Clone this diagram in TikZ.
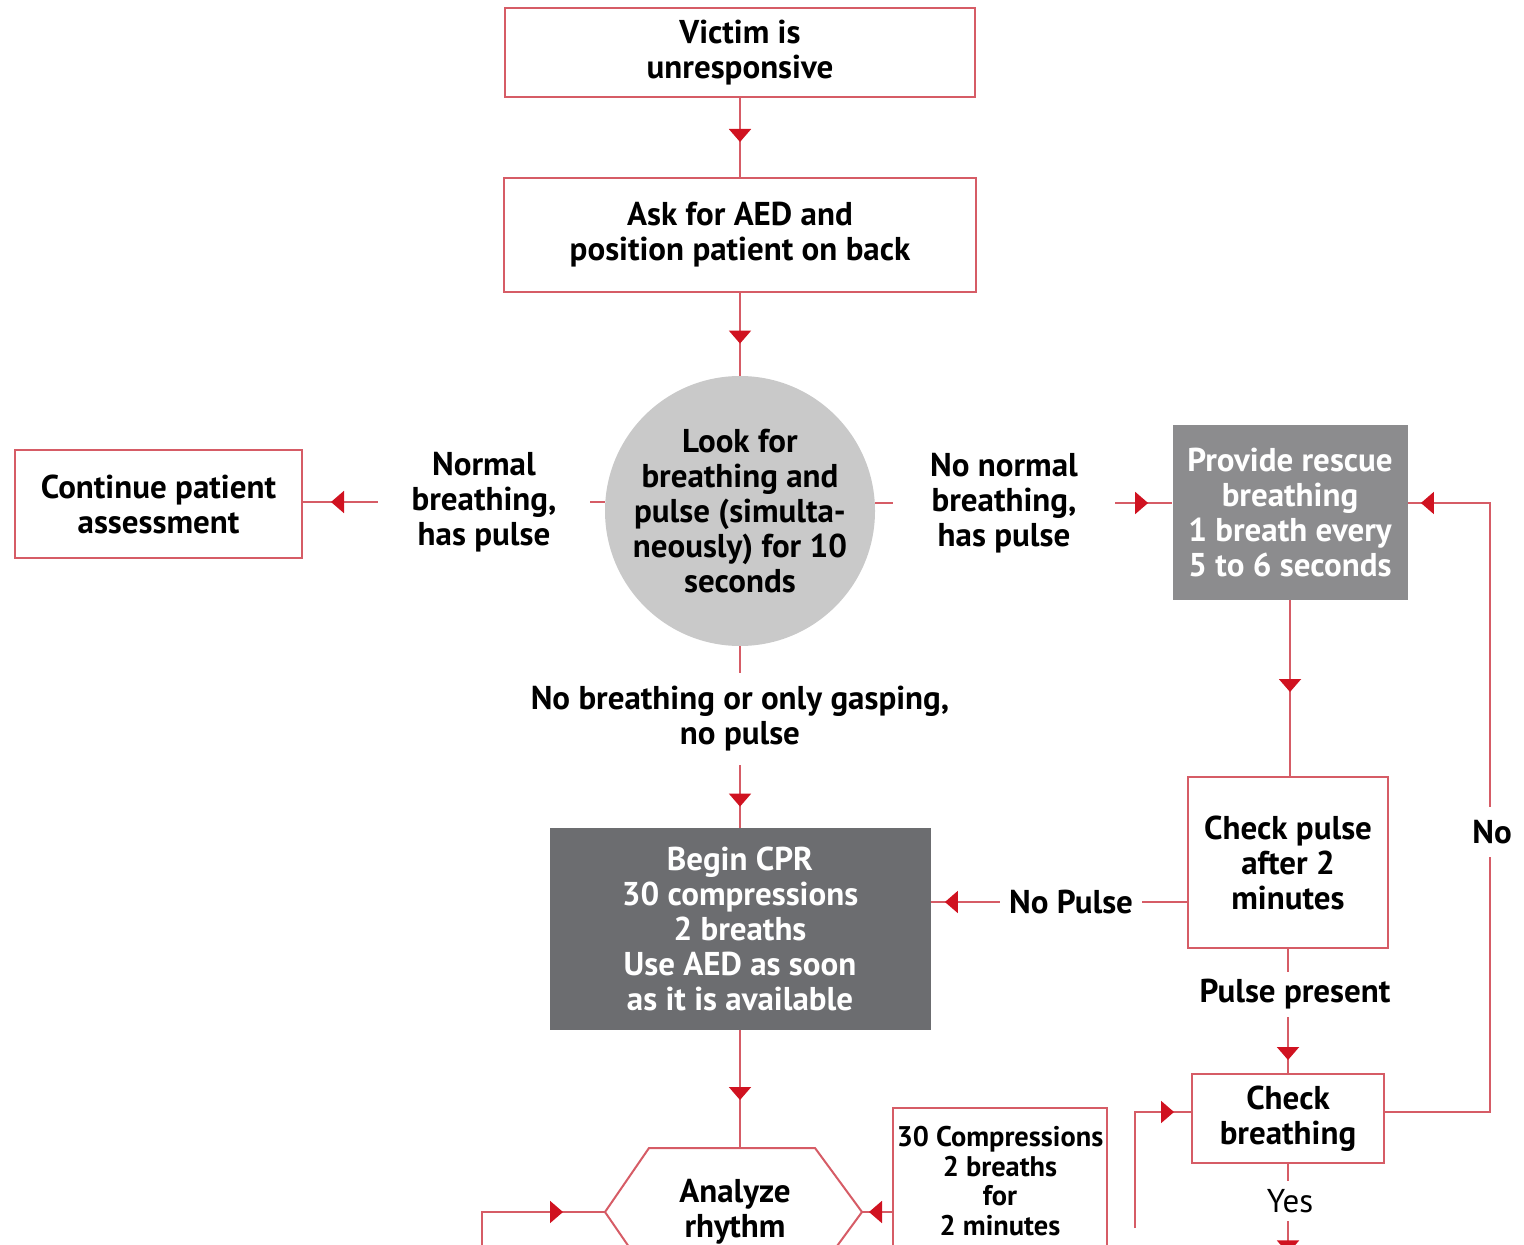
\documentclass[tikz,border=0pt]{standalone}
\usepackage{fontspec}
\setmainfont{PT Sans}
\usetikzlibrary{arrows.meta,decorations.markings}
\definecolor{ln}{RGB}{214,92,102}
\definecolor{tp}{RGB}{208,18,32}
\definecolor{gA}{RGB}{201,201,201}
\definecolor{gB}{RGB}{140,140,142}
\definecolor{gC}{RGB}{108,109,112}
\begin{document}
\begin{tikzpicture}[x=0.5pt,y=-0.5pt,
  base/.style={font=\bfseries\fontsize{16.5}{17.5}\selectfont, align=center, inner sep=0pt},
  box/.style={base, draw=ln, line width=1pt, rectangle},
  con/.style={draw=ln, line width=1pt},
  tipat/.style={postaction={decorate,decoration={markings,mark=at position #1 with {\arrow{Triangle[length=6.5pt,width=11pt,color=tp]}}}}}
]
\useasboundingbox (0,0) rectangle (1524,1245);
\clip (0,0) rectangle (1524,1245);

% nodes
\node[box, minimum width=235pt, minimum height=44.5pt] (victim) at (740,52.5) {Victim is\\unresponsive};
\node[box, minimum width=236pt, minimum height=57pt] (ask) at (740,235) {Ask for AED and\\position patient on back};
\node[base, circle, fill=gA, minimum size=135pt] (circ) at (740,511) {Look for\\breathing and\\pulse (simulta-\\neously) for 10\\seconds};
\node[box, minimum width=143.5pt, minimum height=54pt] (cont) at (158.5,504) {Continue patient\\assessment};
\node[base, minimum width=106pt] (labL) at (484,502) {Normal\\breathing,\\has pulse};
\node[base, minimum width=111pt] (labR) at (1004,503) {No normal\\breathing,\\has pulse};
\node[base, fill=gB, text=white, minimum width=117.5pt, minimum height=87.5pt] (prov) at (1290,512.5) {Provide rescue\\breathing\\1 breath every\\5 to 6 seconds};
\node[box, minimum width=100pt, minimum height=85.5pt] (chkp) at (1288,862.5) {Check pulse\\after 2\\minutes};
\node[base, minimum width=71pt] (labNP) at (1071,902) {No Pulse};
\node[base, fill=gC, text=white, minimum width=190.5pt, minimum height=101pt] (cpr) at (740,929) {Begin CPR\\30 compressions\\2 breaths\\Use AED as soon\\as it is available};
\node[base, minimum height=46pt] (labB) at (740,719) {No breathing or only gasping,\\no pulse};
\node[base, minimum height=22.5pt] (labPP) at (1295,994.5) {Pulse present};
\node[box, minimum width=96pt, minimum height=44.5pt] (chkb) at (1288,1118.5) {Check\\breathing};
\node[base, minimum height=25pt] (labNo) at (1492,832) {No};
\node[base, font=\fontsize{16.5}{17.5}\selectfont, minimum height=20pt] (labYes) at (1290,1201) {Yes};
\node[box, font=\bfseries\fontsize{14.2}{14.7}\selectfont, minimum width=107pt, minimum height=73pt] (comp) at (1000,1181) {30 Compressions\\2 breaths\\for\\2 minutes};

% hexagon
\coordinate (hexT) at (740,1148);
\coordinate (hexL) at (605,1212);
\coordinate (hexR) at (862,1212);
\draw[con] (649,1148) -- (815,1148) -- (hexR) -- (815,1276) -- (649,1276) -- (hexL) -- cycle;
\node[base] (hex) at (735,1212) {Analyze\\rhythm};

% free-end coordinates
\coordinate (nb) at (1490,1112);
\coordinate (nt) at (1490,503);
\coordinate (yesEnd) at (1288,1300);
\coordinate (lb) at (482,1260);
\coordinate (lc) at (482,1212);
\coordinate (rb) at (1135,1228);
\coordinate (rc) at (1135,1112);

% connectors
\draw[con, tipat=-17.5pt] (victim.south) -- (victim.south |- ask.north);
\draw[con, tipat=-16pt] (ask.south) -- (ask.south |- circ.north);
\draw[con] (circ.south) -- (labB.north);
\draw[con, tipat=-10.5pt] (labB.south) -- (labB.south |- cpr.north);
\draw[con, tipat=-24pt] (cpr.south) -- (cpr.south |- hexT);
\draw[con] (circ.west |- labL.east) -- (labL.east);
\draw[con, tipat=-14pt] (labL.west) -- (labL.west -| cont.east);
\draw[con] (circ.east |- labR.west) -- (labR.west);
\draw[con, tipat=-12pt] (labR.east) -- (labR.east -| prov.west);
\draw[con, tipat=-42pt] (prov.south) -- (prov.south |- chkp.north);
\draw[con] (chkp.west |- labNP.east) -- (labNP.east);
\draw[con, tipat=-7pt] (labNP.west) -- (labNP.west -| cpr.east);
\draw[con] (chkp.south) -- (chkp.south |- labPP.north);
\draw[con, tipat=-6.5pt] (chkp.south |- labPP.south) -- (chkb.north);
\draw[con] (chkb.east |- nb) -- (nb) -- (nb |- labNo.south);
\draw[con, tipat=-6.5pt] (nb |- labNo.north) -- (nt) -- (nt -| prov.east);
\draw[con] (chkb.south) -- (chkb.south |- labYes.north);
\draw[con, tipat=16pt] (chkb.south |- labYes.south) -- (yesEnd);
\draw[con, tipat=-21pt] (lb) -- (lc) -- (hexL);
\draw[con, tipat=-3.5pt] (comp.west |- hexR) -- (hexR);
\draw[con, tipat=-8.5pt] (rb) -- (rc) -- (rc -| chkb.west);
\end{tikzpicture}
\end{document}
